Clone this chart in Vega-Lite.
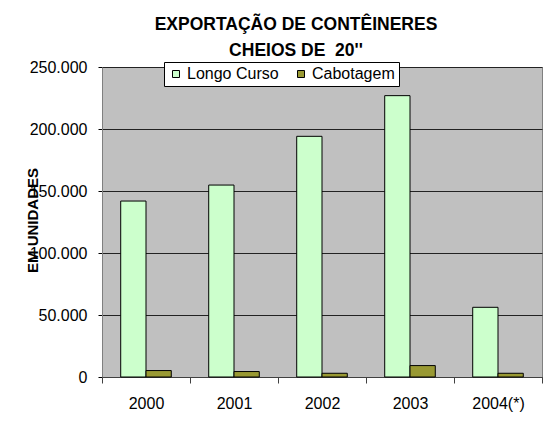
{
  "$schema": "https://vega.github.io/schema/vega-lite/v6.json",
  "width": 440,
  "height": 310,
  "autosize": {"type": "none"},
  "padding": {"left": 102, "top": 67, "right": 15, "bottom": 51},
  "background": "white",
  "title": {
    "text": ["EXPORTAÇÃO DE CONTÊINERES", "CHEIOS DE \u00a020''"],
    "font": "Liberation Sans",
    "fontSize": 17.5,
    "fontWeight": "bold",
    "color": "black",
    "anchor": "middle",
    "frame": "group",
    "dx": -26,
    "lineHeight": 26,
    "offset": 0
  },
  "data": {
    "values": [
      {"ano": "2000", "tipo": "Longo Curso", "valor": 141900},
      {"ano": "2000", "tipo": "Cabotagem", "valor": 5200},
      {"ano": "2001", "tipo": "Longo Curso", "valor": 154800},
      {"ano": "2001", "tipo": "Cabotagem", "valor": 4400},
      {"ano": "2002", "tipo": "Longo Curso", "valor": 194100},
      {"ano": "2002", "tipo": "Cabotagem", "valor": 3000},
      {"ano": "2003", "tipo": "Longo Curso", "valor": 226900},
      {"ano": "2003", "tipo": "Cabotagem", "valor": 9200},
      {"ano": "2004(*)", "tipo": "Longo Curso", "valor": 56200},
      {"ano": "2004(*)", "tipo": "Cabotagem", "valor": 3000}
    ]
  },
  "mark": {"type": "bar", "stroke": "black", "strokeWidth": 1},
  "encoding": {
    "x": {
      "field": "ano",
      "type": "nominal",
      "sort": ["2000", "2001", "2002", "2003", "2004(*)"],
      "scale": {"paddingInner": 0, "paddingOuter": 0},
      "axis": {
        "title": null,
        "labelAngle": 0,
        "tickBand": "extent",
        "tickSize": 6,
        "labelPadding": 12,
        "domainColor": "#404040",
        "tickColor": "#404040",
        "grid": false
      }
    },
    "xOffset": {
      "field": "tipo",
      "type": "nominal",
      "sort": ["Longo Curso", "Cabotagem"],
      "scale": {"paddingInner": 0, "paddingOuter": 0.74}
    },
    "y": {
      "field": "valor",
      "type": "quantitative",
      "scale": {"domain": [0, 250000], "nice": false},
      "axis": {
        "title": "EM UNIDADES",
        "titleFontWeight": "bold",
        "titleFontSize": 15,
        "titleX": -70,
        "titleY": 153,
        "titleBaseline": "middle",
        "titleAngle": -90,
        "values": [0, 50000, 100000, 150000, 200000, 250000],
        "format": ",d",
        "tickSize": 4,
        "labelPadding": 11,
        "grid": true,
        "gridColor": "#222222",
        "gridWidth": 1,
        "domainColor": "#808080",
        "tickColor": "black"
      }
    },
    "fill": {
      "field": "tipo",
      "type": "nominal",
      "sort": ["Longo Curso", "Cabotagem"],
      "scale": {"domain": ["Longo Curso", "Cabotagem"], "range": ["#CCFFCC", "#999933"]},
      "legend": {
        "title": null,
        "orient": "none",
        "legendX": 62,
        "legendY": -5,
        "direction": "horizontal",
        "fillColor": "white",
        "strokeColor": "black",
        "padding": 4,
        "symbolType": "square",
        "symbolSize": 49,
        "symbolStrokeColor": "black",
        "symbolStrokeWidth": 1,
        "symbolOpacity": 1,
        "labelFontSize": 16,
        "labelFont": "Liberation Sans",
        "labelColor": "black",
        "columnPadding": 14,
        "labelOffset": 3
      }
    }
  },
  "config": {
    "locale": {"number": {"decimal": ",", "thousands": ".", "grouping": [3], "currency": ["R$", ""]}},
    "view": {"fill": "#C0C0C0", "stroke": "#808080", "strokeWidth": 1},
    "axis": {
      "labelFont": "Liberation Sans",
      "labelFontSize": 16,
      "labelColor": "black",
      "titleFont": "Liberation Sans",
      "titleColor": "black"
    }
  }
}
